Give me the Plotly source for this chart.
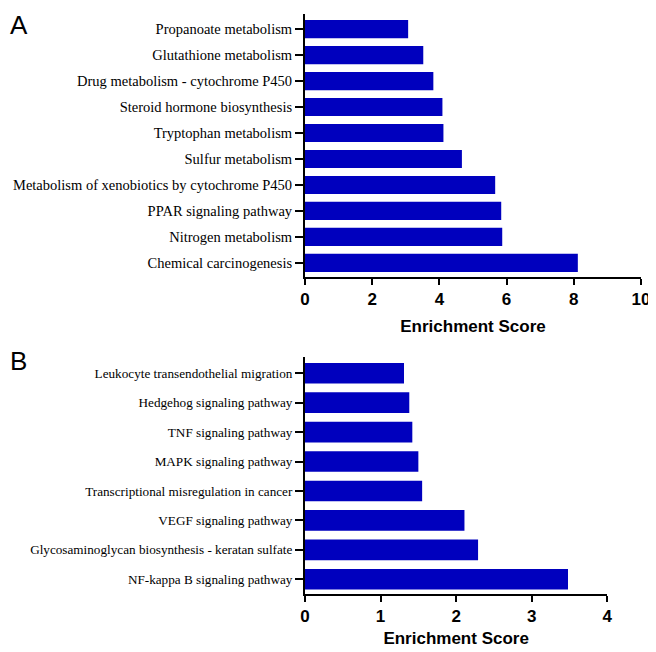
import plotly.graph_objects as go

# panel A : KEGG pathways (top)
pathways_a = [
    "Chemical carcinogenesis",
    "Nitrogen metabolism",
    "PPAR signaling pathway",
    "Metabolism of xenobiotics by cytochrome P450",
    "Sulfur metabolism",
    "Tryptophan metabolism",
    "Steroid hormone biosynthesis",
    "Drug metabolism - cytochrome P450",
    "Glutathione metabolism",
    "Propanoate metabolism",
]
scores_a = [8.12, 5.87, 5.84, 5.66, 4.67, 4.12, 4.09, 3.82, 3.52, 3.07]

# panel B
pathways_b = [
    "NF-kappa B signaling pathway",
    "Glycosaminoglycan biosynthesis - keratan sulfate",
    "VEGF signaling pathway",
    "Transcriptional misregulation in cancer",
    "MAPK signaling pathway",
    "TNF signaling pathway",
    "Hedgehog signaling pathway",
    "Leukocyte transendothelial migration",
]
scores_b = [3.48, 2.29, 2.11, 1.55, 1.50, 1.42, 1.38, 1.31]

bleu = "#0000BE"
# the page body has an 8px margin, so the figure is a bit smaller
OFF = 8
W, H = 656 - OFF, 652 - OFF


def dx(a, b):
    return [(a - OFF) / W, (b - OFF) / W]


def dy(top, bottom):
    return [1 - (bottom - OFF) / H, 1 - (top - OFF) / H]


fig = go.Figure()
fig.add_trace(go.Bar(x=scores_a, y=pathways_a, orientation="h", marker_color=bleu,
                     marker_line_width=0, width=0.7, xaxis="x", yaxis="y"))
fig.add_trace(go.Bar(x=scores_b, y=pathways_b, orientation="h", marker_color=bleu,
                     marker_line_width=0, width=0.7, xaxis="x2", yaxis="y2"))

axe_x = dict(showline=True, linecolor="black", linewidth=2, ticks="outside", ticklen=6,
             tickwidth=2, tickcolor="black", showgrid=False, zeroline=False, automargin=False,
             tickfont=dict(family="Liberation Sans, Arial", size=17, color="black", weight="bold"))
axe_y = dict(showline=True, linecolor="black", linewidth=2, ticks="outside", ticklen=8,
             tickwidth=1.5, tickcolor="black", showgrid=False, zeroline=False, automargin=False)


def titre(standoff):
    return dict(text="<b>Enrichment Score</b>",
                font=dict(family="Liberation Sans, Arial", size=17, color="black"),
                standoff=standoff)


def police_y(taille):
    return dict(family="Liberation Serif, Times New Roman", size=taille, color="black")


fig.update_layout(
    width=W, height=H, margin=dict(l=0, r=0, t=0, b=0, autoexpand=False),
    plot_bgcolor="white", paper_bgcolor="white", showlegend=False, bargap=0.3,
    xaxis=dict(axe_x, domain=dx(305, 641), range=[0, 10], dtick=2, anchor="y", title=titre(12)),
    yaxis=dict(axe_y, domain=dy(14, 276.7), range=[-0.53, 9.58], tickfont=police_y(14.5),
               categoryorder="array", categoryarray=pathways_a, anchor="x"),
    xaxis2=dict(axe_x, domain=dx(305, 607.3), range=[0, 4], dtick=1, anchor="y2", title=titre(7)),
    yaxis2=dict(axe_y, domain=dy(357.3, 594), range=[-0.5, 7.54], tickfont=police_y(13.2),
                categoryorder="array", categoryarray=pathways_b, anchor="x2"),
    annotations=[
        dict(text="A", x=0, y=1, xref="paper", yref="paper",
             showarrow=False, xanchor="left", yanchor="top",
             font=dict(family="Liberation Sans, Arial", size=26, color="black")),
        dict(text="B", x=0, y=1 - (361 - OFF) / H, xref="paper", yref="paper",
             showarrow=False, xanchor="left", yanchor="middle",
             font=dict(family="Liberation Sans, Arial", size=26, color="black")),
    ],
)

fig.write_html("out.html")
